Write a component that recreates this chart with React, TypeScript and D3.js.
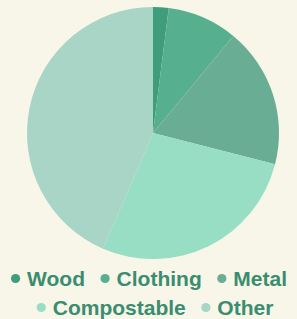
import { useMemo } from 'react';
import * as d3 from 'd3';

const categories = ['Wood', 'Clothing', 'Metal', 'Compostable', 'Other'];
const values = [2, 9, 18, 27.5, 43.5];
const colors = ['#3f9d7b', '#56b08f', '#6aad95', '#98dec5', '#a8d5c6'];
const legendRows = [['Wood', 'Clothing', 'Metal'], ['Compostable', 'Other']];

const W = 297;
const H = 319;
const FAMILY = '"Liberation Sans", Arial, Helvetica, sans-serif';
const SIZE = 21;

function measure(text: string) {
  const ctx = document.createElement('canvas').getContext('2d');
  if (!ctx) return text.length * 11;
  ctx.font = `bold ${SIZE}px ${FAMILY}`;
  return ctx.measureText(text).width;
}

export default function App() {
  const cx = 153;
  const cy = 133;
  const r = 126;

  const arcs = useMemo(() => {
    const pie = d3.pie<number>().sort(null).value((d) => d);
    return pie(values);
  }, []);
  const arc = d3.arc<d3.PieArcDatum<number>>().innerRadius(0).outerRadius(r);

  const dotR = 4.6;
  const dotGap = 11.5; // dot centre to text start
  const itemGap = 15.5; // text end to next dot edge
  const rowCenter = [149, 155];
  const rowY = [278.5, 307.5];

  const rows = legendRows.map((row, ri) => {
    const items = row.map((name) => ({ name, w: measure(name) }));
    const total = items.reduce((s, it) => s + dotR + dotGap + it.w, 0) + itemGap * (items.length - 1);
    let x = rowCenter[ri] - total / 2;
    const y = rowY[ri];
    return items.map((it) => {
      const out = { ...it, dx: x + dotR, tx: x + dotR + dotGap, y };
      x += dotR + dotGap + it.w + itemGap;
      return out;
    });
  });

  return (
    <div style={{ position: 'fixed', left: 0, top: 0, width: W, height: H, background: '#f8f5e9' }}>
      <svg width={W} height={H} style={{ display: 'block' }}>
        <rect width={W} height={H} fill="#f8f5e9" />
        <g transform={`translate(${cx},${cy})`}>
          {arcs.map((a, i) => (
            <path key={categories[i]} d={arc(a) || ''} fill={colors[i]} />
          ))}
        </g>
        {rows.map((row) =>
          row.map((it) => {
            const i = categories.indexOf(it.name);
            return (
              <g key={it.name}>
                <circle cx={it.dx} cy={it.y} r={dotR} fill={colors[i]} />
                <text
                  x={it.tx}
                  y={it.y}
                  dy="0.35em"
                  fill="#3a8d6f"
                  fontFamily={FAMILY}
                  fontWeight="bold"
                  fontSize={SIZE}
                >
                  {it.name}
                </text>
              </g>
            );
          })
        )}
      </svg>
    </div>
  );
}
